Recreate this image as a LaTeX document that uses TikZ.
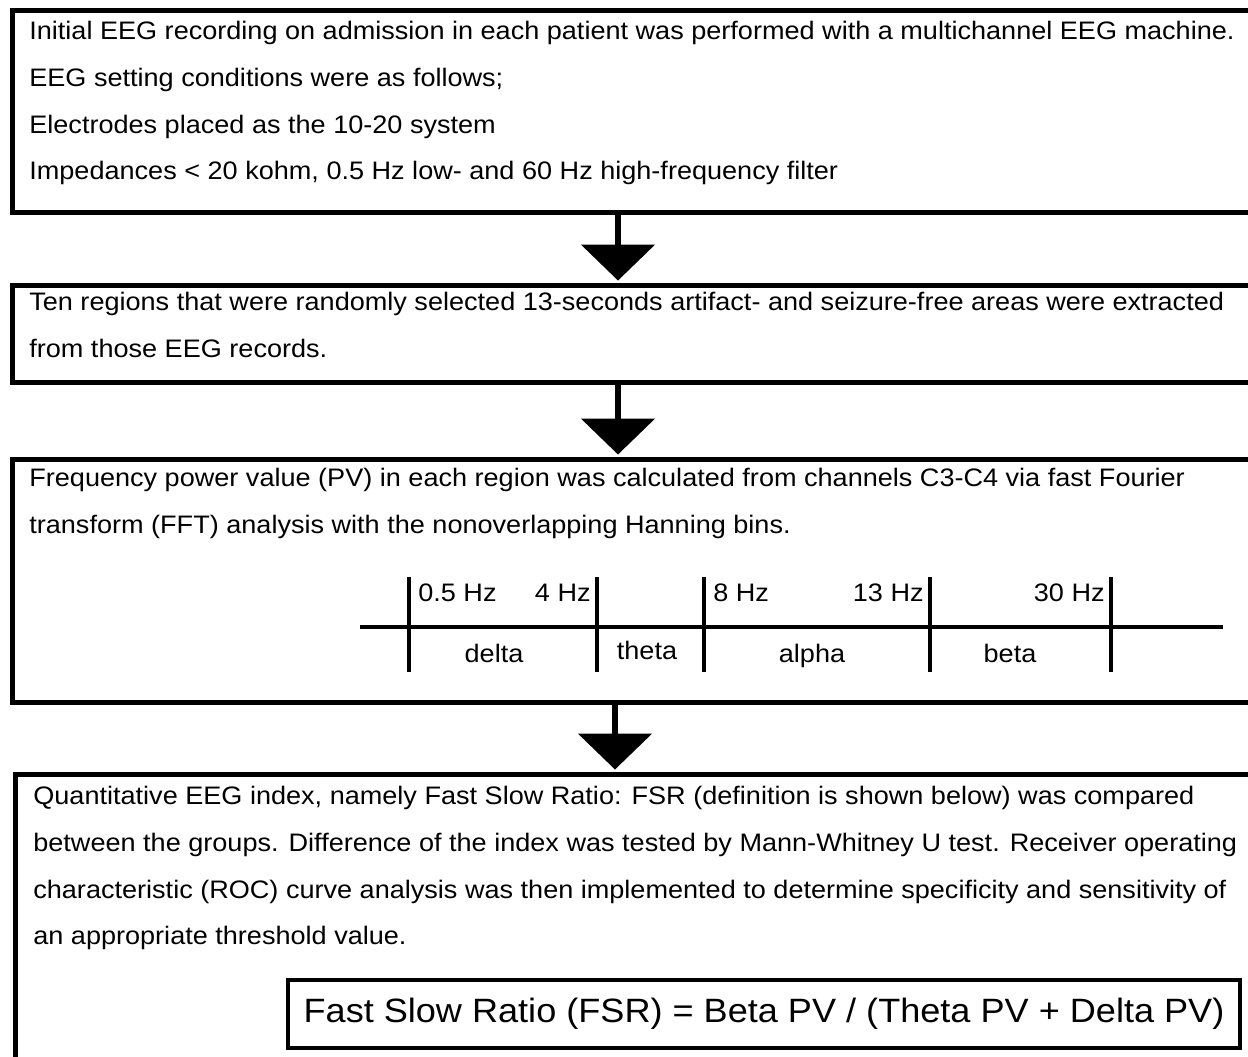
\documentclass[tikz,border=0pt]{standalone}
\usepackage{fontspec}
\setmainfont[FakeStretch=1.07]{Liberation Sans}
\usetikzlibrary{positioning, arrows.meta, calc}

\begin{document}
\begin{tikzpicture}[
    x=0.02cm, y=-0.02cm,
    panel/.style={draw, line width=2.8pt, anchor=north west, inner sep=0pt, minimum width=25.2cm},
    body/.style={anchor=north west, align=left, inner sep=0pt, font=\fontsize{14.4}{26.6}\selectfont},
    flow/.style={line width=3.4pt, -{Triangle[length=0.72cm, width=1.46cm]}, shorten >=1.4pt},
    band/.style={inner sep=0pt, font=\fontsize{14.4}{16}\selectfont},
    bar/.style={line width=2.6pt}
]
\clip (0,0) rectangle (1248,1057);
\useasboundingbox (0,0) rectangle (1248,1057);

% boxes
\node[panel, minimum height=4.04cm] (rec) at (10,8) {};
\node[panel, minimum height=1.94cm] (ext) at (10,283) {};
\node[panel, minimum height=4.86cm] (fft) at (10,457) {};
\node[panel, minimum height=6.6cm] (idx) at (13,772) {};

% texts
\node[body] (recT) at (29,21) {Initial EEG recording on admission in each patient was performed with a multichannel EEG machine.\\
EEG setting conditions were as follows;\\
Electrodes placed as the 10-20 system\\
Impedances < 20 kohm, 0.5 Hz low- and 60 Hz high-frequency filter};
\node[body] (extT) at (29,292) {Ten regions that were randomly selected 13-seconds artifact- and seizure-free areas were extracted\\
from those EEG records.};
\node[body] (fftT) at (29,468) {Frequency power value (PV) in each region was calculated from channels C3-C4 via fast Fourier\\
transform (FFT) analysis with the nonoverlapping Hanning bins.};
\node[body] (idxT) at (33,786) {Quantitative EEG index, namely Fast Slow Ratio: FSR (definition is shown below) was compared\\
between the groups. Difference of the index was tested by Mann-Whitney U test. Receiver operating\\
characteristic (ROC) curve analysis was then implemented to determine specificity and sensitivity of\\
an appropriate threshold value.};

% formula
\node[draw, line width=2.3pt, minimum width=19.04cm, minimum height=1.36cm, inner sep=0pt,
      font=\fontsize{19.2}{22}\selectfont] (fsr) at (764,1014) {Fast Slow Ratio (FSR) = Beta PV / (Theta PV + Delta PV)};

% frequency bands
\draw[line width=2.3pt] (360,627) -- (1223,627);
\foreach \t in {409,597,704,930,1111}
  \draw[bar] (\t,577) -- (\t,672);
\node[band, anchor=base west] (f05) at (418,602) {0.5 Hz};
\node[band, anchor=base east] (f4) at (591,602) {4 Hz};
\node[band, anchor=base west] (f8) at (713,602) {8 Hz};
\node[band, anchor=base east] (f13) at (924,602) {13 Hz};
\node[band, anchor=base east] (f30) at (1105,602) {30 Hz};
\node[band, anchor=base] (delta) at (494,662) {delta};
\node[band, anchor=base] (theta) at (647,659) {theta};
\node[band, anchor=base] (alpha) at (812,662) {alpha};
\node[band, anchor=base] (beta) at (1010,662) {beta};

% arrows
\coordinate (c1) at (618,0);
\coordinate (c2) at (615,0);
\draw[flow] (rec.south -| c1) -- (ext.north -| c1);
\draw[flow] (ext.south -| c1) -- (fft.north -| c1);
\draw[flow] (fft.south -| c2) -- (idx.north -| c2);

\end{tikzpicture}
\end{document}
